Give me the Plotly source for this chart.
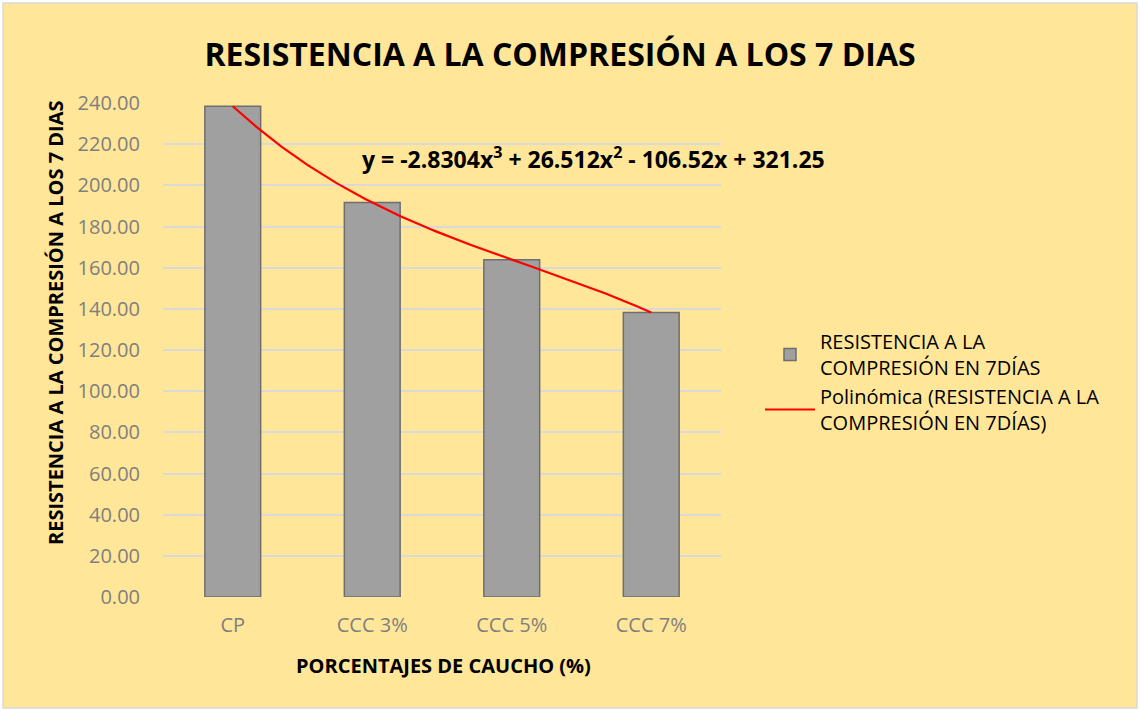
import numpy as np
import plotly.graph_objects as go

# Datos
categorias = ['CP', 'CCC 3%', 'CCC 5%', 'CCC 7%']
resistencia = [238.41, 191.61, 163.88, 138.21]
y_ticks = [0, 20, 40, 60, 80, 100, 120, 140, 160, 180, 200, 220, 240]

x_pos = np.arange(1, len(categorias) + 1)

# Linea de tendencia polinomica de orden 3 (como en Excel)
coef = np.polyfit(x_pos, resistencia, 3)
x_fit = np.linspace(1, 4, 200)
y_fit = np.polyval(coef, x_fit)

FONT = 'Open Sans'
L, R, T, B = 163, 721, 103, 597   # area de trazado en pixeles
PW, PH = R - L, B - T


def px_x(p):
    return (p - L) / PW


def px_y(p):
    return (B - p) / PH


fig = go.Figure()

fig.add_trace(go.Bar(
    x=x_pos, y=resistencia, width=0.4,
    name='RESISTENCIA A LA<br>COMPRESIÓN EN 7DÍAS',
    marker=dict(color='#A0A0A0', line=dict(color='#6E6E6E', width=1.5)),
))

fig.add_trace(go.Scatter(
    x=x_fit, y=y_fit, mode='lines',
    name='Polinómica (RESISTENCIA A LA<br>COMPRESIÓN EN 7DÍAS)',
    line=dict(color='#FF0000', width=2.2),
))

# Fondo amarillo con borde gris
fig.add_shape(type='rect', xref='paper', yref='paper',
              x0=px_x(3), x1=px_x(1137), y0=px_y(708), y1=px_y(3),
              fillcolor='#FFE699', line=dict(color='#D9D9D9', width=1.5),
              layer='below')

fig.add_annotation(
    x=px_x(593), y=px_y(158), xref='paper', yref='paper',
    xanchor='center', yanchor='middle',
    text='y = -2.8304x<sup>3</sup> + 26.512x<sup>2</sup> - 106.52x + 321.25',
    showarrow=False, font=dict(family=FONT, size=23, color='black', weight='bold'),
)

# Titulo del eje Y
fig.add_annotation(
    x=px_x(55), y=px_y(323), xref='paper', yref='paper',
    xanchor='center', yanchor='middle', textangle=-90,
    text='<b>RESISTENCIA A LA COMPRESIÓN A LOS 7 DIAS</b>',
    showarrow=False, font=dict(family=FONT, size=20, color='black'),
)

# Titulo del eje X
fig.add_annotation(
    x=px_x(443), y=px_y(665), xref='paper', yref='paper',
    xanchor='center', yanchor='middle',
    text='<b>PORCENTAJES DE CAUCHO (%)</b>',
    showarrow=False, font=dict(family=FONT, size=20, color='black'),
)

fig.update_layout(
    width=1140, height=711,
    margin=dict(l=L, r=1140 - R, t=T, b=711 - B),
    paper_bgcolor='white', plot_bgcolor='rgba(0,0,0,0)',
    font=dict(family=FONT, color='#7F7F7F', size=20),
    title=dict(text='<b>RESISTENCIA A LA COMPRESIÓN A LOS 7 DIAS</b>',
               x=560 / 1140, xanchor='center', y=1 - 55 / 711, yanchor='middle',
               xref='container', yref='container',
               font=dict(family=FONT, size=32, color='black')),
    xaxis=dict(range=[0.5, 4.5], tickvals=x_pos, ticktext=categorias,
               showgrid=False, zeroline=False, showline=False, ticks='',
               ticklabelstandoff=14),
    yaxis=dict(range=[0, 240], tickvals=y_ticks, tickformat='.2f',
               gridcolor='#D9D9D9', gridwidth=1.5, zeroline=False, showline=False,
               ticks='', ticklabelstandoff=22),
    legend=dict(x=px_x(760), y=px_y(322), xanchor='left', yanchor='top',
                bgcolor='rgba(0,0,0,0)', font=dict(family=FONT, size=20, color='black'),
                itemwidth=50, tracegroupgap=18),
    bargap=0.6,
)

fig.write_html('out.html', config={'displayModeBar': False},
               post_script="document.body.style.margin='0';")
